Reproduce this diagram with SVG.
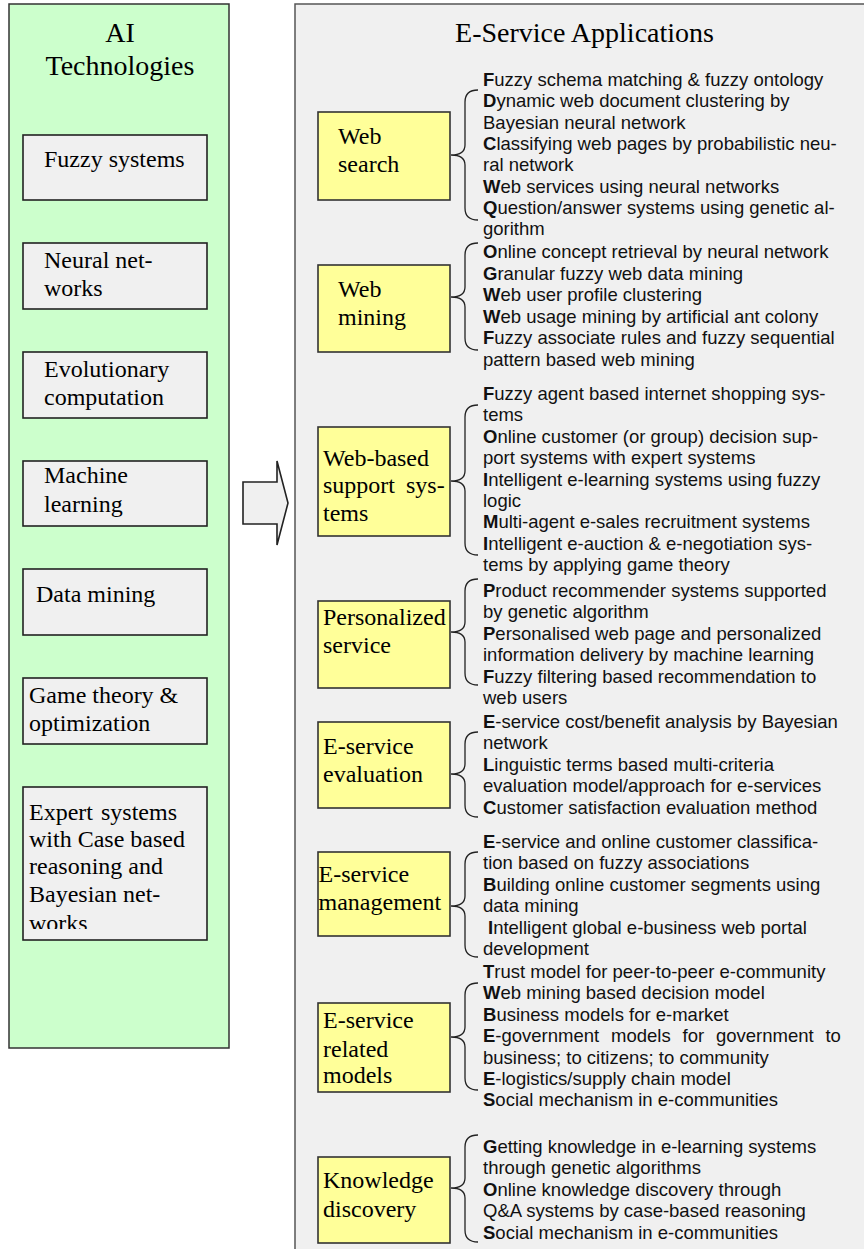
<svg xmlns="http://www.w3.org/2000/svg" width="864" height="1249" viewBox="0 0 864 1249">
<style>
.panelL{fill:#ccffcc;stroke:#333;stroke-width:1.5}
.panelR{fill:#f0f0f0;stroke:#555;stroke-width:1.5}
.tech{fill:#f0f0f0;stroke:#222;stroke-width:1.6}
.app{fill:#ffff99;stroke:#333;stroke-width:1.6}
.title{font-family:"Liberation Serif","Times New Roman",serif;font-size:28px;fill:#000}
.ser{font-family:"Liberation Serif","Times New Roman",serif;font-size:24px;fill:#000}
.it{font-family:"Liberation Sans",Arial,sans-serif;font-size:18.5px;fill:#111}
.it tspan.b{font-weight:bold}
.brace{fill:none;stroke:#222;stroke-width:1.3}
.arrow{fill:#f0f0f0;stroke:#222;stroke-width:1.6}
</style>
<defs>
<clipPath id="clipExp"><rect x="23" y="787" width="184" height="142"/></clipPath>
</defs>
<rect width="864" height="1249" fill="#fff"/>

<g id="ai-panel">
<rect class="panelL" x="9" y="4" width="220" height="1044"/>
<text class="title" x="120" y="42" text-anchor="middle">AI</text>
<text class="title" x="120" y="75" text-anchor="middle">Technologies</text>
</g>

<g id="eservice-panel">
<rect class="panelR" x="295" y="4" width="585" height="1260"/>
<text class="title" x="584.5" y="42" text-anchor="middle" font-size="29">E-Service Applications</text>
</g>

<g id="fuzzy-systems">
<rect class="tech" x="23" y="135" width="184" height="65"/>
<text class="ser" x="44" y="167">Fuzzy systems</text>
</g>
<g id="neural-networks">
<rect class="tech" x="23" y="243" width="184" height="66"/>
<text class="ser" x="44" y="268">Neural net-</text>
<text class="ser" x="44" y="296">works</text>
</g>
<g id="evolutionary-computation">
<rect class="tech" x="23" y="352" width="184" height="66"/>
<text class="ser" x="44" y="377">Evolutionary</text>
<text class="ser" x="44" y="405">computation</text>
</g>
<g id="machine-learning">
<rect class="tech" x="23" y="461" width="184" height="65"/>
<text class="ser" x="44" y="483">Machine</text>
<text class="ser" x="44" y="512">learning</text>
</g>
<g id="data-mining">
<rect class="tech" x="23" y="569" width="184" height="66"/>
<text class="ser" x="36" y="602">Data mining</text>
</g>
<g id="game-theory">
<rect class="tech" x="23" y="678" width="184" height="66"/>
<text class="ser" x="29" y="703">Game theory &amp;</text>
<text class="ser" x="29" y="731">optimization</text>
</g>
<g id="expert-systems">
<rect class="tech" x="23" y="787" width="184" height="153"/>
<g clip-path="url(#clipExp)">
<text class="ser" x="29" y="820" word-spacing="2">Expert systems</text>
<text class="ser" x="29" y="847">with Case based</text>
<text class="ser" x="29" y="874">reasoning and</text>
<text class="ser" x="29" y="902">Bayesian net-</text>
<text class="ser" x="29" y="931">works</text>
</g>
</g>

<g id="web-search">
<rect class="app" x="318" y="112" width="132" height="88"/>
<text class="ser" x="338" y="144">Web</text>
<text class="ser" x="338" y="172">search</text>
<text class="it" x="483" y="86"><tspan class="b">F</tspan>uzzy schema matching &amp; fuzzy ontology</text>
<text class="it" x="483" y="107.3"><tspan class="b">D</tspan>ynamic web document clustering by</text>
<text class="it" x="483" y="128.6">Bayesian neural network</text>
<text class="it" x="483" y="149.9"><tspan class="b">C</tspan>lassifying web pages by probabilistic neu-</text>
<text class="it" x="483" y="171.2">ral network</text>
<text class="it" x="483" y="192.5"><tspan class="b">W</tspan>eb services using neural networks</text>
<text class="it" x="483" y="213.8"><tspan class="b">Q</tspan>uestion/answer systems using genetic al-</text>
<text class="it" x="483" y="235.1">gorithm</text>
</g>

<g id="web-mining">
<rect class="app" x="318" y="265" width="132" height="87"/>
<text class="ser" x="338" y="297">Web</text>
<text class="ser" x="338" y="325">mining</text>
<text class="it" x="483" y="258"><tspan class="b">O</tspan>nline concept retrieval by neural network</text>
<text class="it" x="483" y="279.5"><tspan class="b">G</tspan>ranular fuzzy web data mining</text>
<text class="it" x="483" y="301"><tspan class="b">W</tspan>eb user profile clustering</text>
<text class="it" x="483" y="322.5"><tspan class="b">W</tspan>eb usage mining by artificial ant colony</text>
<text class="it" x="483" y="344"><tspan class="b">F</tspan>uzzy associate rules and fuzzy sequential</text>
<text class="it" x="483" y="365.5">pattern based web mining</text>
</g>

<g id="web-based-support">
<rect class="app" x="318" y="427" width="132" height="109"/>
<text class="ser" x="323" y="466">Web-based</text>
<text class="ser" y="493"><tspan x="323">support</tspan><tspan x="406">sys-</tspan></text>
<text class="ser" x="323" y="521">tems</text>
<text class="it" x="483" y="400"><tspan class="b">F</tspan>uzzy agent based internet shopping sys-</text>
<text class="it" x="483" y="421.4">tems</text>
<text class="it" x="483" y="442.8"><tspan class="b">O</tspan>nline customer (or group) decision sup-</text>
<text class="it" x="483" y="464.2">port systems with expert systems</text>
<text class="it" x="483" y="485.6"><tspan class="b">I</tspan>ntelligent e-learning systems using fuzzy</text>
<text class="it" x="483" y="507">logic</text>
<text class="it" x="483" y="528.4"><tspan class="b">M</tspan>ulti-agent e-sales recruitment systems</text>
<text class="it" x="483" y="549.8"><tspan class="b">I</tspan>ntelligent e-auction &amp; e-negotiation sys-</text>
<text class="it" x="483" y="571.2">tems by applying game theory</text>
</g>

<g id="personalized-service">
<rect class="app" x="318" y="601" width="132" height="87"/>
<text class="ser" x="323" y="625">Personalized</text>
<text class="ser" x="323" y="653">service</text>
<text class="it" x="483" y="597"><tspan class="b">P</tspan>roduct recommender systems supported</text>
<text class="it" x="483" y="618.4">by genetic algorithm</text>
<text class="it" x="483" y="639.8"><tspan class="b">P</tspan>ersonalised web page and personalized</text>
<text class="it" x="483" y="661.2">information delivery by machine learning</text>
<text class="it" x="483" y="682.6"><tspan class="b">F</tspan>uzzy filtering based recommendation to</text>
<text class="it" x="483" y="704">web users</text>
</g>

<g id="eservice-evaluation">
<rect class="app" x="318" y="722" width="132" height="86"/>
<text class="ser" x="323" y="754">E-service</text>
<text class="ser" x="323" y="782">evaluation</text>
<text class="it" x="483" y="728"><tspan class="b">E</tspan>-service cost/benefit analysis by Bayesian</text>
<text class="it" x="483" y="749.4">network</text>
<text class="it" x="483" y="770.8"><tspan class="b">L</tspan>inguistic terms based multi-criteria</text>
<text class="it" x="483" y="792.2">evaluation model/approach for e-services</text>
<text class="it" x="483" y="813.6"><tspan class="b">C</tspan>ustomer satisfaction evaluation method</text>
</g>

<g id="eservice-management">
<rect class="app" x="318" y="852" width="132" height="84"/>
<text class="ser" x="318.5" y="882">E-service</text>
<text class="ser" x="318.5" y="910">management</text>
<text class="it" x="483" y="848"><tspan class="b">E</tspan>-service and online customer classifica-</text>
<text class="it" x="483" y="869.4">tion based on fuzzy associations</text>
<text class="it" x="483" y="890.8"><tspan class="b">B</tspan>uilding online customer segments using</text>
<text class="it" x="483" y="912.2">data mining</text>
<text class="it" x="488" y="933.6"><tspan class="b">I</tspan>ntelligent global e-business web portal</text>
<text class="it" x="483" y="955">development</text>
</g>

<g id="eservice-related-models">
<rect class="app" x="318" y="1003" width="132" height="89"/>
<text class="ser" x="323" y="1028">E-service</text>
<text class="ser" x="323" y="1057">related</text>
<text class="ser" x="323" y="1083">models</text>
<text class="it" x="483" y="978"><tspan class="b">T</tspan>rust model for peer-to-peer e-community</text>
<text class="it" x="483" y="999.4"><tspan class="b">W</tspan>eb mining based decision model</text>
<text class="it" x="483" y="1020.8"><tspan class="b">B</tspan>usiness models for e-market</text>
<text class="it" x="483" y="1042.2" word-spacing="6.7"><tspan class="b">E</tspan>-government models for government to</text>
<text class="it" x="483" y="1063.6">business; to citizens; to community</text>
<text class="it" x="483" y="1085"><tspan class="b">E</tspan>-logistics/supply chain model</text>
<text class="it" x="483" y="1106.4"><tspan class="b">S</tspan>ocial mechanism in e-communities</text>
</g>

<g id="knowledge-discovery">
<rect class="app" x="318" y="1157" width="132" height="86"/>
<text class="ser" x="323" y="1188">Knowledge</text>
<text class="ser" x="323" y="1217">discovery</text>
<text class="it" x="483" y="1153"><tspan class="b">G</tspan>etting knowledge in e-learning systems</text>
<text class="it" x="483" y="1174.4">through genetic algorithms</text>
<text class="it" x="483" y="1195.8"><tspan class="b">O</tspan>nline knowledge discovery through</text>
<text class="it" x="483" y="1217.2">Q&amp;A systems by case-based reasoning</text>
<text class="it" x="483" y="1238.6"><tspan class="b">S</tspan>ocial mechanism in e-communities</text>
</g>

<g id="connectors">
<polygon class="arrow" points="243,482 277,482 277,461 288,503 277,545 277,524 243,524"/>
<path class="brace" d="M478,90 Q465,90 465,102 L465,145 Q465,155 451,155 Q465,155 465,165 L465,208 Q465,220 478,220"/>
<path class="brace" d="M478,243 Q465,243 465,255 L465,287 Q465,297 451,297 Q465,297 465,307 L465,338 Q465,350 478,350"/>
<path class="brace" d="M478,405 Q465,405 465,417 L465,471 Q465,481 451,481 Q465,481 465,491 L465,543 Q465,555 478,555"/>
<path class="brace" d="M478,579 Q465,579 465,591 L465,622 Q465,632 451,632 Q465,632 465,642 L465,673 Q465,685 478,685"/>
<path class="brace" d="M478,732 Q465,732 465,744 L465,764 Q465,774 451,774 Q465,774 465,784 L465,805 Q465,817 478,817"/>
<path class="brace" d="M478,852 Q465,852 465,864 L465,896 Q465,906 451,906 Q465,906 465,916 L465,945 Q465,957 478,957"/>
<path class="brace" d="M478,983 Q465,983 465,995 L465,1027 Q465,1037 451,1037 Q465,1037 465,1047 L465,1078 Q465,1090 478,1090"/>
<path class="brace" d="M478,1135 Q465,1135 465,1147 L465,1178 Q465,1188 451,1188 Q465,1188 465,1198 L465,1230 Q465,1242 478,1242"/>
</g>
</svg>
